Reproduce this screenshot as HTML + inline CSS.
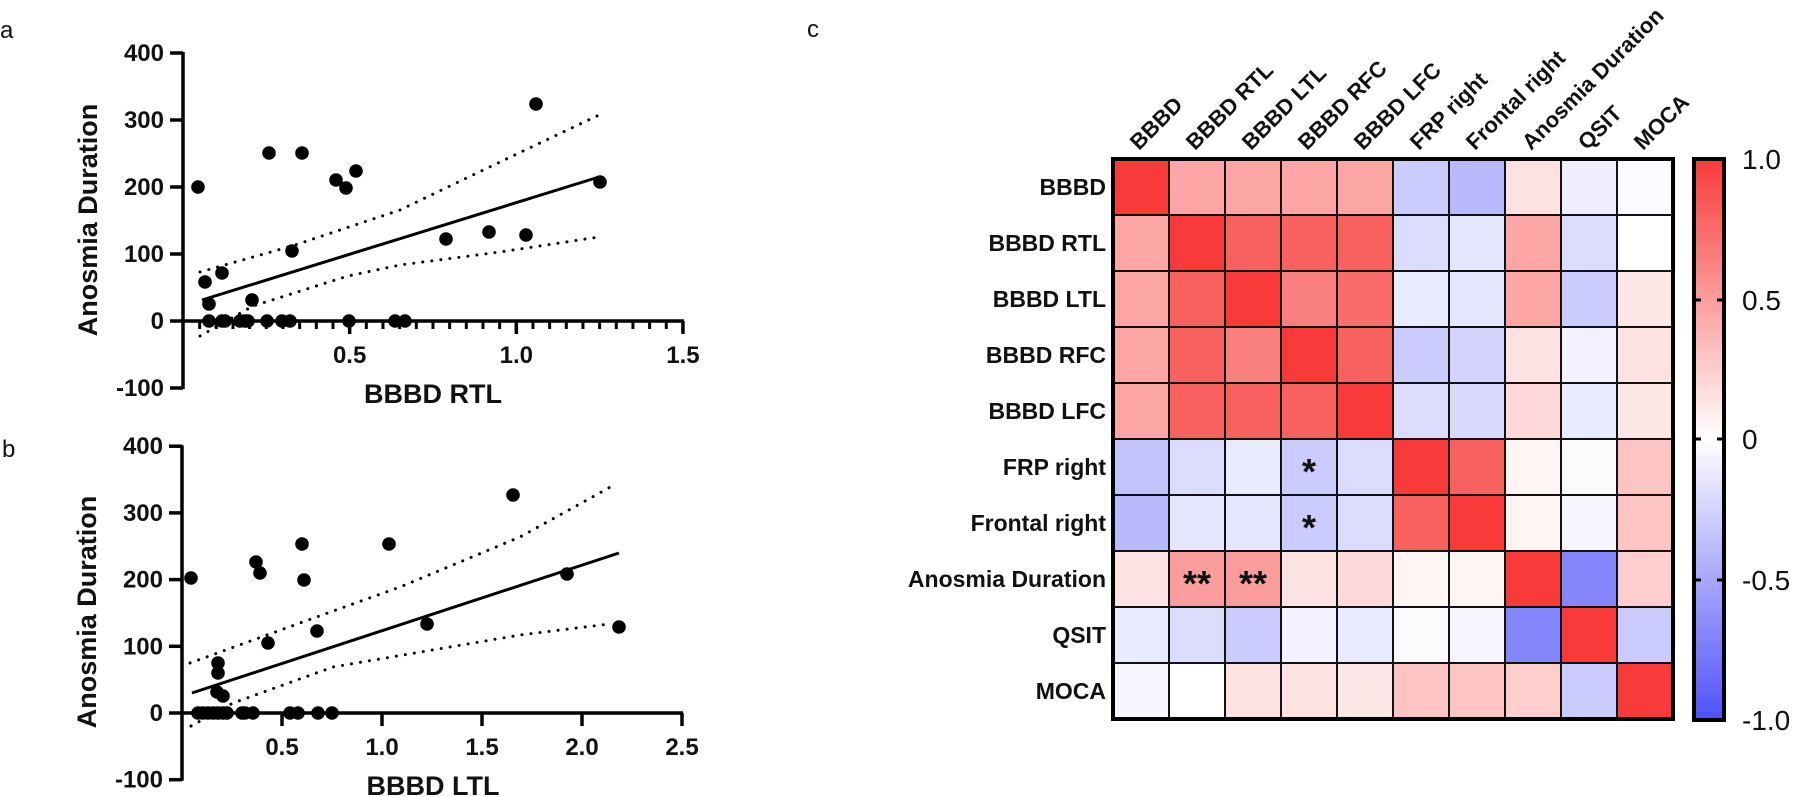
<!DOCTYPE html>
<html><head><meta charset="utf-8"><style>
html,body{margin:0;padding:0;background:#fff;}
svg{display:block;font-family:"Liberation Sans",Arial,sans-serif;}
.t{font-weight:bold;font-size:24px;fill:#111;}
.ti{font-weight:bold;font-size:27px;fill:#111;}
</style></head><body>
<svg id="s" width="1796" height="797" viewBox="0 0 1796 797" xmlns="http://www.w3.org/2000/svg">
<text x="0" y="38" font-size="24" fill="#111">a</text>
<text x="2" y="457" font-size="24" fill="#111">b</text>
<text x="807" y="37" font-size="24" fill="#111">c</text>
<g id="pa"></g><g id="pb"></g><g id="hm"></g>
</svg>
<script>
var NS="http://www.w3.org/2000/svg";
function el(p,t,a,txt){var e=document.createElementNS(NS,t);for(var k in a)e.setAttribute(k,a[k]);if(txt!==undefined)e.textContent=txt;p.appendChild(e);return e;}
function panel(g,o){
 var X=function(v){return o.x0+v*o.sx;},Y=function(v){return o.y0-v*o.sy;};
 // axes
 el(g,'line',{x1:o.x0,y1:Y(400)-1,x2:o.x0,y2:Y(-100)+1,stroke:'#000','stroke-width':3.5});
 el(g,'line',{x1:o.x0,y1:o.y0,x2:X(o.xmax)+1,y2:o.y0,stroke:'#000','stroke-width':3.5});
 [400,300,200,100,0,-100].forEach(function(v){
  el(g,'line',{x1:o.x0-13,y1:Y(v),x2:o.x0,y2:Y(v),stroke:'#000','stroke-width':3.5});
  el(g,'text',{x:o.x0-19,y:Y(v)+8,'text-anchor':'end','class':'t'},String(v));
 });
 if(o.minor){for(var i=1;i<=30;i++){var v=i*0.05;if(i%10==0)continue;el(g,'line',{x1:X(v),y1:o.y0,x2:X(v),y2:o.y0+8,stroke:'#000','stroke-width':3});}}
 o.xt.forEach(function(v){
  el(g,'line',{x1:X(v),y1:o.y0,x2:X(v),y2:o.y0+13,stroke:'#000','stroke-width':3.5});
  el(g,'text',{x:X(v),y:o.y0+42,'text-anchor':'middle','class':'t'},v.toFixed(1));
 });
 el(g,'text',{x:433,y:o.y0+82,'text-anchor':'middle','class':'ti'},o.xl);
 el(g,'text',{x:0,y:0,'text-anchor':'middle','class':'ti',transform:'translate('+(o.x0-86)+','+(o.y0-101)+') rotate(-90)'},'Anosmia Duration');
 function pl(pts,dash){el(g,'polyline',{points:pts.map(function(p){return p.join(',')}).join(' '),fill:'none',stroke:'#000','stroke-width':3,'stroke-dasharray':dash||'', 'stroke-linecap':dash?'round':'butt'});}
 pl(o.up,'0.1 9');pl(o.lo,'0.1 9');pl(o.ln);
 o.dots.forEach(function(p){el(g,'circle',{cx:p[0],cy:p[1],r:6.8,fill:'#000'});});
 o.zeros.forEach(function(x){el(g,'circle',{cx:x,cy:o.y0,r:6.8,fill:'#000'});});
}
panel(document.getElementById('pa'),{x0:183,y0:321,sx:333.3,sy:0.67,xmax:1.5,minor:true,xt:[0.5,1.0,1.5],xl:'BBBD RTL',
 dots:[[198,187],[205,282],[209,304],[222,273],[252,300],[269,153],[302,153],[292,251],[336,180],[346,188],[356,171],[446,239],[489,232],[526,235],[536,104],[600,182]],
 zeros:[209,222,225,240,245,248,267,282,290,349,395,405],
 ln:[[202,300],[599,177]],
 up:[[200,272],[292,246],[400,210],[500,162],[599,115]],
 lo:[[200,336],[253,306],[348,276],[400,265],[500,252],[599,237]]});
panel(document.getElementById('pb'),{x0:182,y0:713,sx:200,sy:0.667,xmax:2.5,minor:false,xt:[0.5,1.0,1.5,2.0,2.5],xl:'BBBD LTL',
 dots:[[191,578],[218,663],[218,673],[217,692],[223,696],[256,562],[260,573],[268,643],[302,544],[304,580],[317,631],[389,544],[427,624],[513,495],[567,574],[619,627]],
 zeros:[198,203,208,213,218,223,227,242,245,253,290,298,318,332],
 ln:[[192,693],[619,553]],
 up:[[190,663],[300,623],[400,587],[520,537],[614,485]],
 lo:[[191,726],[233,703],[333,667],[520,635],[609,624]]});
// heatmap
var hm=document.getElementById('hm');
var names=['BBBD','BBBD RTL','BBBD LTL','BBBD RFC','BBBD LFC','FRP right','Frontal right','Anosmia Duration','QSIT','MOCA'];
var M=[
[1,.45,.45,.45,.45,-.3,-.4,.15,-.1,-.03],
[.45,1,.8,.8,.8,-.2,-.15,.45,-.2,0],
[.45,.8,1,.65,.75,-.12,-.15,.45,-.3,.12],
[.45,.8,.65,1,.8,-.3,-.25,.15,-.08,.15],
[.45,.8,.8,.8,1,-.2,-.22,.2,-.12,.12],
[-.35,-.2,-.12,-.3,-.2,1,.8,.05,-.02,.3],
[-.4,-.15,-.15,-.3,-.2,.8,1,.05,-.05,.3],
[.15,.5,.5,.15,.2,.05,.05,1,-.7,.25],
[-.12,-.2,-.3,-.08,-.12,-.02,-.05,-.7,1,-.3],
[-.05,0,.15,.15,.12,.3,.3,.25,-.3,1]];
function col(v){var r,g,b;if(v>=0){r=255-v*7;g=255-v*197;b=255-v*197;}else{v=-v;r=255-v*175;g=255-v*175;b=255-v*5;}return 'rgb('+Math.round(r)+','+Math.round(g)+','+Math.round(b)+')';}
var L=1113,T=159,C=56;
for(var i=0;i<10;i++)for(var j=0;j<10;j++)el(hm,'rect',{x:L+j*C,y:T+i*C,width:C,height:C,fill:col(M[i][j]),stroke:'#111','stroke-width':2});
el(hm,'rect',{x:L,y:T,width:10*C,height:10*C,fill:'none',stroke:'#000','stroke-width':4});
names.forEach(function(n,i){
 el(hm,'text',{x:L-7,y:T+i*C+C/2+8,'text-anchor':'end','font-size':23,'font-weight':'bold',fill:'#111'},n);
 var cx=L+i*C+C/2;
 el(hm,'text',{x:0,y:0,'font-size':22,'font-weight':'bold',fill:'#111',transform:'translate('+(cx-2)+',151) rotate(-45)'},n);
});
[[5,3,'*'],[6,3,'*'],[7,1,'**'],[7,2,'**']].forEach(function(a){
 el(hm,'text',{x:L+a[1]*C+C/2,y:T+a[0]*C+C/2+17,'text-anchor':'middle','font-size':36,'font-weight':'bold',fill:'#111'},a[2]);
});
// colorbar
var d=el(hm,'defs',{});var lg=el(d,'linearGradient',{id:'cb',x1:0,y1:0,x2:0,y2:1});
[[0,col(1)],[0.5,'#ffffff'],[1,col(-1)]].forEach(function(s){el(lg,'stop',{offset:s[0],'stop-color':s[1]});});
el(hm,'rect',{x:1694,y:159,width:30,height:561,fill:'url(#cb)',stroke:'#000','stroke-width':4});
[[300,'0.5'],[439,'0'],[580,'-0.5']].forEach(function(t){
 el(hm,'line',{x1:1694,y1:t[0],x2:1701,y2:t[0],stroke:'#000','stroke-width':3});
 el(hm,'line',{x1:1717,y1:t[0],x2:1724,y2:t[0],stroke:'#000','stroke-width':3});
});
[[159,'1.0'],[300,'0.5'],[439,'0'],[580,'-0.5'],[720,'-1.0']].forEach(function(t){
 el(hm,'text',{x:1742,y:t[0]+10,'font-size':28,fill:'#111'},t[1]);
});
</script>
</body></html>
